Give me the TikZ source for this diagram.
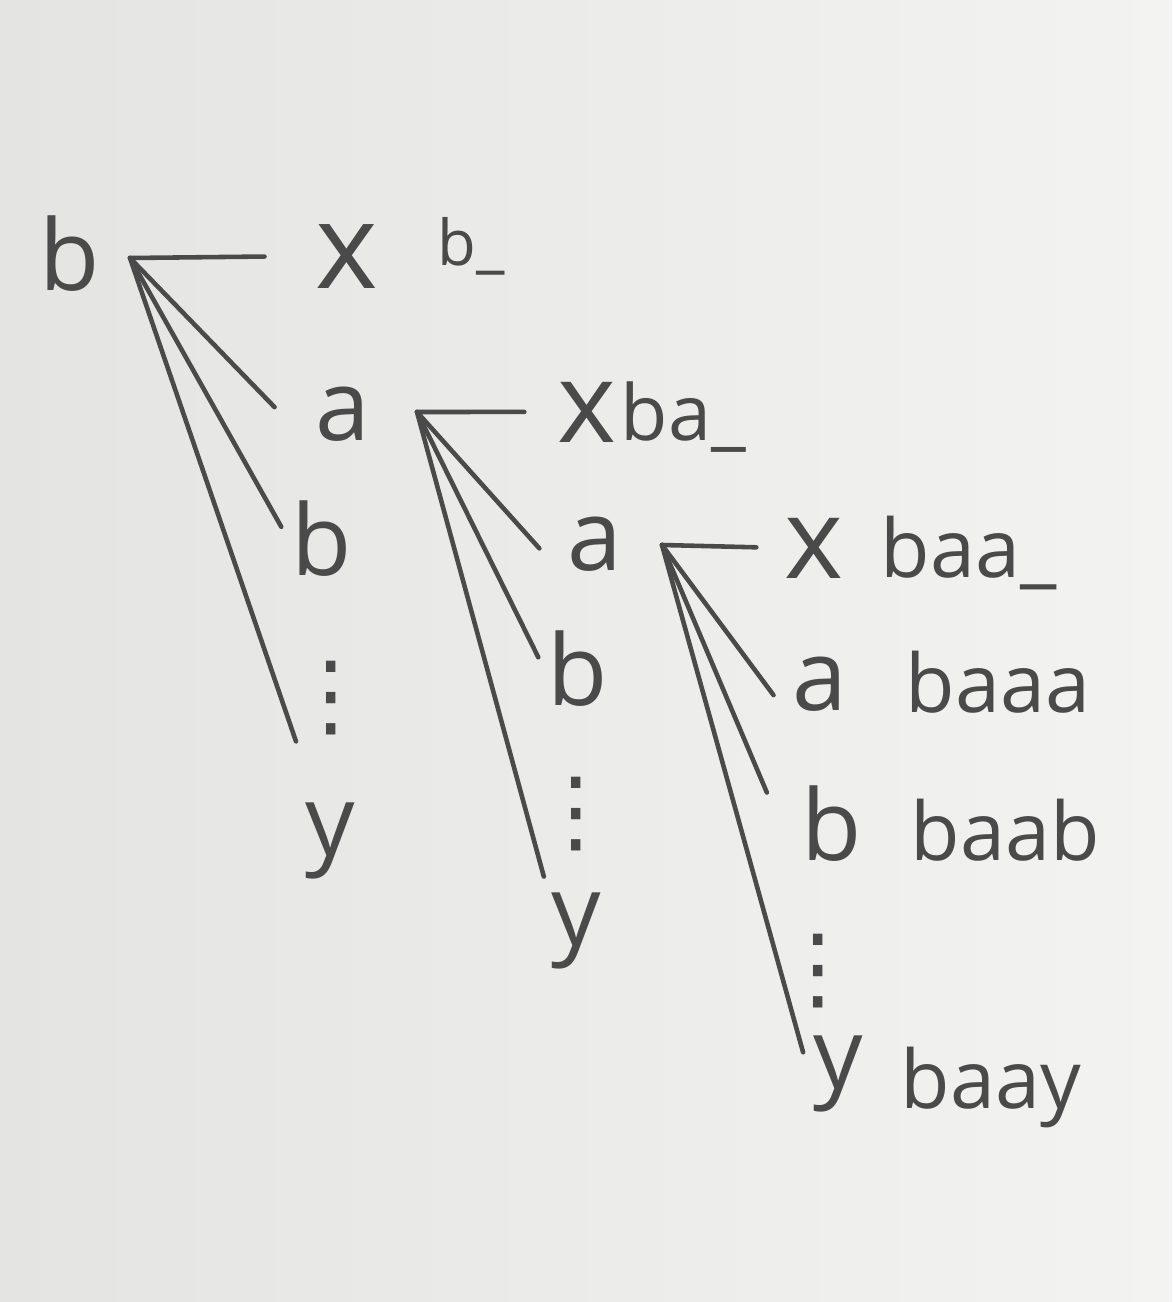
\documentclass[tikz,border=0pt]{standalone}
\usepackage{fontspec}
\setmainfont{Open Sans}
\newfontfamily\dejavu{DejaVu Sans}
\definecolor{ink}{HTML}{4A4A4A}
\definecolor{paperL}{HTML}{E4E4E2}
\definecolor{paperR}{HTML}{F3F3F1}
\begin{document}
\begin{tikzpicture}[x=1cm,y=-1cm,
  big/.style={text=ink, font=\fontsize{28}{30}\selectfont, anchor=base, inner sep=1pt},
  bigx/.style={big, font=\fontsize{32}{34}\selectfont},
  lab/.style={text=ink, anchor=base west, inner sep=0pt},
  conn/.style={draw=ink, line width=1.3pt, line cap=round},
  dotsn/.style={text=ink, font=\dejavu\fontsize{26}{26}\selectfont, inner sep=0pt}]
\fill[left color=paperL, right color=paperR] (0,0) rectangle (11.72,13.02);
\useasboundingbox (0,0) rectangle (11.72,13.02);
% level 1
\node[big] (r) at (0.70,2.90) {b};
\node[bigx, font=\fontsize{34}{36}\selectfont] (x1) at (3.47,2.88) {x};
\node[lab, font=\fontsize{18}{20}\selectfont] (l1) at (4.37,2.65) {b\_};
\node[big] (a1) at (3.43,4.40) {a};
\node[big] (b1) at (3.22,5.75) {b};
\node[dotsn] (d1) at (3.31,6.98) {⋮};
\node[big] (y1) at (3.30,8.55) {y};
% level 2
\node[bigx] (x2) at (5.87,4.42) {x};
\node[lab, font=\fontsize{22}{24}\selectfont] (l2) at (6.20,4.40) {ba\_};
\node[big] (a2) at (5.95,5.70) {a};
\node[big] (b2) at (5.78,7.05) {b};
\node[dotsn] (d2) at (5.76,8.14) {⋮};
\node[big] (y2) at (5.76,9.45) {y};
% level 3
\node[bigx] (x3) at (8.14,5.78) {x};
\node[lab, font=\fontsize{23}{25}\selectfont] (l3) at (8.80,5.77) {baa\_};
\node[big] (a3) at (8.20,7.10) {a};
\node[lab, font=\fontsize{23}{25}\selectfont] (l4) at (9.05,7.12) {baaa};
\node[big] (b3) at (8.32,8.60) {b};
\node[lab, font=\fontsize{23}{25}\selectfont] (l5) at (9.10,8.60) {baab};
\node[dotsn] (d3) at (8.18,9.71) {⋮};
\node[big] (y3) at (8.38,10.88) {y};
\node[lab, font=\fontsize{23}{25}\selectfont] (l6) at (9.00,11.08) {baay};
% forks
\coordinate (f1) at (1.30,2.58);
\coordinate (f2) at (4.17,4.12);
\coordinate (f3) at (6.62,5.45);
\draw[conn, shorten >=0.47cm] (f1) -- (x1.west);
\draw[conn, shorten >=0.53cm] (f1) -- (a1.south west);
\draw[conn, shorten >=0.13cm] (f1) -- (b1.west);
\draw[conn, shorten >=0.60cm] (f1) -- (y1);
\draw[conn, shorten >=0.29cm] (f2) -- (x2.west);
\draw[conn, shorten >=0.36cm] (f2) -- (a2.south west);
\draw[conn, shorten >=0.12cm] (f2) -- (b2.west);
\draw[conn, shorten >=0.12cm] (f2) -- (y2.north west);
\draw[conn, shorten >=0.24cm] (f3) -- (x3.west);
\draw[conn, shorten >=0.25cm] (f3) -- (a3.south west);
\draw[conn, shorten >=0.79cm] (f3) -- (b3.south west);
\draw[conn, shorten >=0.22cm] (f3) -- (y3.west);
\end{tikzpicture}
\end{document}
